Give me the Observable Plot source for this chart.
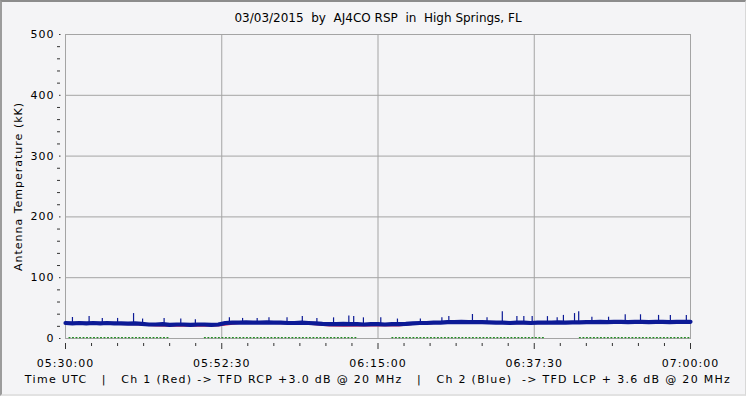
<!DOCTYPE html>
<html><head><meta charset="utf-8">
<script src="https://cdn.jsdelivr.net/npm/d3@7"></script>
<script src="https://cdn.jsdelivr.net/npm/@observablehq/plot@0.6"></script>
<style>
body{margin:0;background:#fff;}
#wrap{position:relative;width:746px;height:396px;overflow:hidden;}
#wrap svg{display:block;}
#wrap svg text{white-space:pre;letter-spacing:1px;}
#edge{position:absolute;left:0;top:0;width:746px;height:396px;box-sizing:border-box;border-top:2px solid #8c8c8c;border-left:2px solid #9c9c9c;border-right:1px solid #d8d8d8;border-bottom:2px solid #e2e2e2;pointer-events:none;}
</style></head><body><div id="wrap"><div id="edge"></div></div>
<script>
const titleText = "03/03/2015  by  AJ4CO RSP  in  High Springs, FL";
const captionText = "Time UTC   |   Ch 1 (Red) -> TFD RCP +3.0 dB @ 20 MHz   |   Ch 2 (Blue)  -> TFD LCP + 3.6 dB @ 20 MHz";
const yLabel = "Antenna Temperature (kK)";

// minutes after 05:30:00 UTC
const xMajorMin = [0, 22.5, 45, 67.5, 90];
const xLabels = ["05:30:00", "05:52:30", "06:15:00", "06:37:30", "07:00:00"];
const xMinorMin = [3.75, 7.5, 11.25, 15, 18.75, 26.25, 30, 33.75, 37.5, 41.25, 48.75, 52.5, 56.25, 60, 63.75, 71.25, 75, 78.75, 82.5, 86.25];
const yMajor = [0, 100, 200, 300, 400, 500];
const yMinor = [20, 40, 60, 80, 120, 140, 160, 180, 220, 240, 260, 280, 320, 340, 360, 380, 420, 440, 460, 480];

// Ch 2 (Blue) baseline, one reading per minute
const blueMin = [0,1,2,3,4,5,6,7,8,9,10,11,12,13,14,15,16,17,18,19,20,21,22,23,24,25,26,27,28,29,30,31,32,33,34,35,36,37,38,39,40,41,42,43,44,45,46,47,48,49,50,51,52,53,54,55,56,57,58,59,60,61,62,63,64,65,66,67,68,69,70,71,72,73,74,75,76,77,78,79,80,81,82,83,84,85,86,87,88,89,90];
const blueVal = [25.5,25,25.5,25,25.5,25,25.5,25,25,24.5,25,24,23,23,23.5,22.5,23,23,22.5,23,23,22.5,23,25.5,26,26,26.5,26,26,26.5,26,26,25.5,25.5,26,25.5,25,24,23.5,23.5,24,23.5,23.5,23,23.5,23.5,23,23.5,23.5,24,25,25.5,25.5,26,26,27,27,27.5,27,27,27,26.5,26,26,25.5,26,26,25.5,26,26,26,26.5,26,26.5,26.5,27,27,27.5,27,27.5,27.5,27,27.5,27.5,27,27.5,27.5,27,27.5,27.5,27.5];

// Ch 2 spikes: minute, base, peak
const spikeMin  = [1.0,3.4,5.3,7.5,9.8,11.1,14.2,16.6,18.7,23.6,25.5,27.6,29.3,31.9,34.1,36.2,38.6,40.8,41.5,42.9,45.4,47.8,51.1,54.2,55.2,58.6,60.7,62.9,65.0,66.0,67.2,69.4,70.8,71.7,73.3,73.9,75.8,78.2,80.6,82.8,85.4,87.1,89.4];
const spikeBase = [25,25,25,25,25,24,23,23,23,26,26,26,26,26,26,25,24,24,24,23,23,23,25,26,27,27,27,26,26,26,26,26,26,26,26,26,27,27,27,27,27,27,27];
const spikePeak = [34.5,36,33,33,41,32,33,32,31,34,33,33,34,34,36,33,34,37,36,34,34,32,32,34,36,39.5,34,44,36,36,36,36,34,38,41,44,35,35,39,39,38,38,38];

// Ch 1 (Red)
const redMin = [0,5,10,13,15,20,22,25,30,35,38,40,45,48,50,55,60,65,70,75,80,85,90];
const redVal = [24,24,23,21,20.5,20.5,21,25,25,24,21,20.5,21,21,23.5,26,26,24.5,25,26,26.5,26,26.5];

// Ch 3 (Green), NaN = no reading
const greenMin = [0.5,15,15.5,20,31,42,42.5,47,62.6,69,69.5,74,90];
const greenVal = [1.5,1.5,NaN,1.5,1.5,1.5,NaN,1.5,1.5,1.5,NaN,1.5,1.5];

const start = Date.UTC(2015, 2, 3, 5, 30, 0);
const toDate = m => new Date(start + m * 60000);

const blue = blueMin.map((m, i) => ({t: toDate(m), v: blueVal[i]}));
const red = redMin.map((m, i) => ({t: toDate(m), v: redVal[i]}));
const green = greenMin.map((m, i) => ({t: toDate(m), v: greenVal[i]}));
const spikes = spikeMin.map((m, i) => ({t: toDate(m), b: spikeBase[i], p: spikePeak[i]}));
const xMajor = xMajorMin.map(toDate);
const xMinor = xMinorMin.map(toDate);
const gridColor = "#a4a4a4";
const blueColor = "#0c1a96";
const blank = () => "";

const chart = Plot.plot({
  width: 746, height: 396,
  marginLeft: 65, marginRight: 56, marginTop: 34, marginBottom: 58,
  style: {background: "#f4f4f6", fontFamily: "DejaVu Sans", fontSize: "11px", color: "#000", overflow: "visible"},
  x: {type: "utc", domain: [toDate(0), toDate(90)]},
  y: {domain: [0, 500]},
  marks: [
    Plot.ruleY(yMajor.slice(1, -1), {stroke: gridColor}),
    Plot.ruleX(xMajor.slice(1, -1), {stroke: gridColor}),
    Plot.frame({stroke: gridColor}),
    Plot.line(green, {x: "t", y: "v", stroke: "#1f8a1f", strokeWidth: 1.2, strokeDasharray: "1,2.5"}),
    Plot.line(red, {x: "t", y: "v", stroke: "#d02a5a", strokeWidth: 1.5}),
    Plot.ruleX(spikes, {x: "t", y1: "b", y2: "p", stroke: blueColor, strokeWidth: 1.2}),
    Plot.line(blue, {x: "t", y: "v", stroke: blueColor, strokeWidth: 4.2}),
    Plot.axisY(yMajor, {tickSize: 0, tickPadding: 11, tickFormat: d => String(d), label: null}),
    Plot.axisY(yMajor, {tickSize: 1.5, dx: -4.5, tickFormat: blank, label: null, stroke: "#333"}),
    Plot.axisY(yMinor, {tickSize: 3, dx: -5, tickFormat: blank, label: null, stroke: "#333"}),
    Plot.axisX(xMajor, {tickSize: 6, dy: 5, tickFormat: blank, label: null, stroke: "#333"}),
    Plot.axisX(xMinor, {tickSize: 3, dy: 5, tickFormat: blank, label: null, stroke: "#333"}),
    Plot.axisX(xMajor, {tickSize: 0, tickPadding: 21, label: null,
      tickFormat: d => xLabels[xMajorMin.indexOf((d - start) / 60000)]}),
    Plot.text([yLabel], {frameAnchor: "left", dx: -47, rotate: -90, textAnchor: "middle", lineAnchor: "middle", fill: "#000"}),
    Plot.text([titleText], {frameAnchor: "top", dy: -16, lineAnchor: "middle", fontSize: 12, fill: "#000"}),
    Plot.text([captionText], {frameAnchor: "bottom", dy: 41, lineAnchor: "middle", fill: "#000"})
  ]
});
for (const t of chart.querySelectorAll("text")) {
  if (t.textContent === titleText) t.style.letterSpacing = "0px";
  if (t.textContent === captionText) t.style.letterSpacing = "1.3px";
}
document.getElementById("wrap").prepend(chart);
</script>
</body></html>
